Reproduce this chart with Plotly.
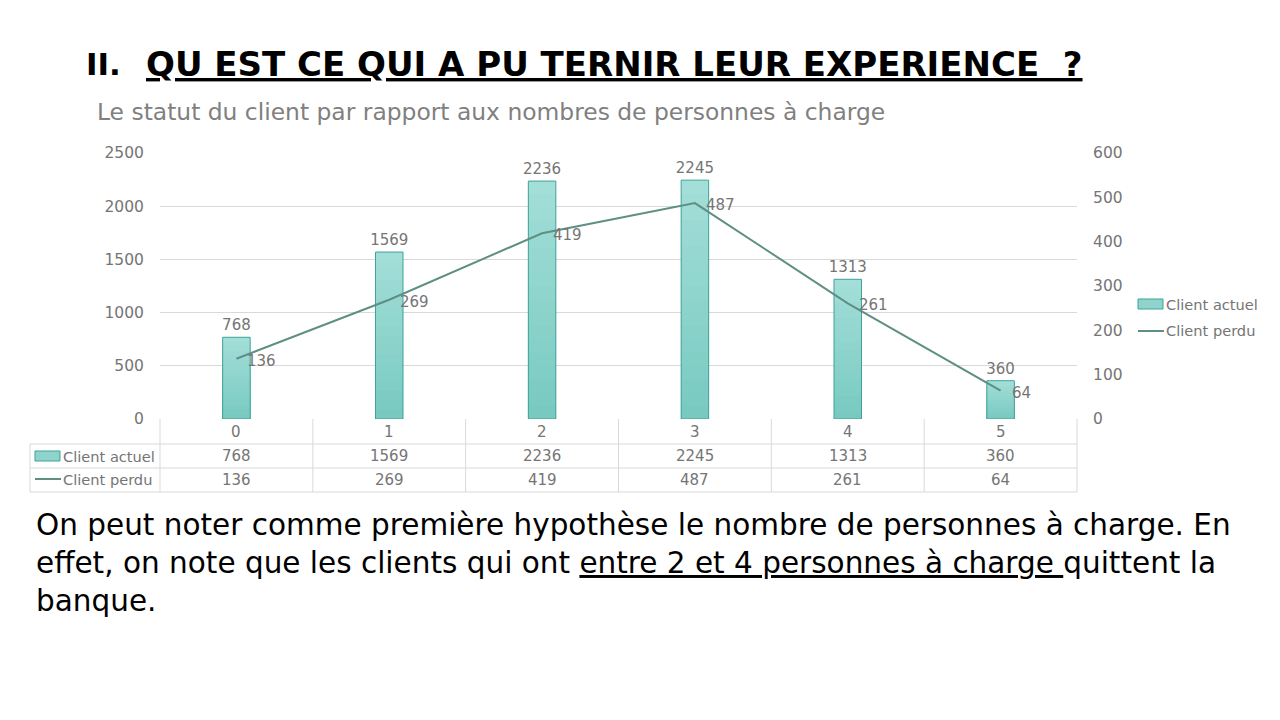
import plotly.graph_objects as go

categories = ["0", "1", "2", "3", "4", "5"]
client_actuel = [768, 1569, 2236, 2245, 1313, 360]
client_perdu = [136, 269, 419, 487, 261, 64]
series_names = ["Client actuel", "Client perdu"]
left_ticks = [0, 500, 1000, 1500, 2000, 2500]
right_ticks = [0, 100, 200, 300, 400, 500, 600]

title_num = "II."
title_text = "QU EST CE QUI A PU TERNIR LEUR EXPERIENCE&nbsp;&nbsp;?"
subtitle = "Le statut du client par rapport aux nombres de personnes à charge"
para_lines = [
    "On peut noter comme première hypothèse le nombre de personnes à charge. En",
    "effet, on note que les clients qui ont <u>entre 2 et 4 personnes à charge </u>quittent la",
    "banque.",
]

W, H = 1280, 720
X0, X1 = 160, 1077
Y0, Y1 = 153, 419
FONT = "DejaVu Sans"
GREY = "#757575"
GRID = "#d9d9d9"
LINE_C = "#5e8f83"
BAR_EDGE = "#3fa399"
TOP_C = (0xa3, 0xde, 0xd8)
BOT_C = (0x78, 0xca, 0xc1)
FS = 15


def px(x):
    return x / W


def py(y):
    return 1 - y / H


def mix(t):
    c = [round(TOP_C[i] + (BOT_C[i] - TOP_C[i]) * t) for i in range(3)]
    return "rgb(%d,%d,%d)" % tuple(c)


fig = go.Figure()
N = 18
for k in range(N):
    frac = 1 - k / N
    fig.add_trace(go.Bar(
        x=categories, y=[v * frac for v in client_actuel], width=0.18,
        marker=dict(color=mix(k / (N - 1)), line=dict(width=0)),
        showlegend=False, hoverinfo="skip"))
# outline + labels
fig.add_trace(go.Bar(
    x=categories, y=client_actuel, width=0.18, name=series_names[0],
    marker=dict(color="rgba(0,0,0,0)", line=dict(color=BAR_EDGE, width=1)),
    text=[str(v) for v in client_actuel], textposition="outside",
    constraintext="none",
    textfont=dict(family=FONT, size=FS, color=GREY), cliponaxis=False,
    showlegend=False))
fig.add_trace(go.Scatter(
    x=categories, y=client_perdu, yaxis="y2", mode="lines",
    name=series_names[1], line=dict(color=LINE_C, width=2),
    showlegend=False))

fig.update_layout(
    width=W, height=H, margin=dict(l=0, r=0, t=0, b=0, autoexpand=False),
    paper_bgcolor="white", plot_bgcolor="white", barmode="overlay",
    showlegend=False, font=dict(family=FONT, color=GREY),
    xaxis=dict(domain=[px(X0), px(X1)], type="category", range=[-0.5, 5.5],
               showticklabels=False, showgrid=False, showline=False,
               zeroline=False, automargin=False),
    yaxis=dict(domain=[py(Y1), py(Y0)], range=[0, 2500], tickvals=left_ticks,
               showgrid=True, gridcolor=GRID, gridwidth=1, zeroline=False,
               ticks="outside", ticklen=12, tickcolor="rgba(0,0,0,0)",
               automargin=False,
               tickfont=dict(family=FONT, size=15.5, color=GREY)),
    yaxis2=dict(overlaying="y", side="right", range=[0, 600],
                tickvals=right_ticks, showgrid=False, zeroline=False,
                ticks="outside", ticklen=12, tickcolor="rgba(0,0,0,0)",
                automargin=False,
                tickfont=dict(family=FONT, size=15.5, color=GREY)),
)

shapes = []
ann = []
# line data labels
for c, v in zip(categories, client_perdu):
    ann.append(dict(x=c, xref="x", y=v, yref="y2", text=str(v), showarrow=False,
                    xanchor="left", yanchor="middle", xshift=9, yshift=-2,
                    font=dict(family=FONT, size=FS, color=GREY)))
# table lines
col_w = (X1 - X0) / len(categories)
for yy in [444, 468, 492]:
    shapes.append(dict(type="line", xref="paper", yref="paper",
                       x0=px(30), x1=px(X1), y0=py(yy), y1=py(yy),
                       line=dict(color=GRID, width=1)))
shapes.append(dict(type="line", xref="paper", yref="paper",
                   x0=px(30), x1=px(30), y0=py(444), y1=py(492),
                   line=dict(color=GRID, width=1)))
for i in range(len(categories) + 1):
    xx = X0 + col_w * i
    shapes.append(dict(type="line", xref="paper", yref="paper",
                       x0=px(xx), x1=px(xx), y0=py(419), y1=py(492),
                       line=dict(color=GRID, width=1)))
# table text
for i, c in enumerate(categories):
    ann.append(dict(x=c, xref="x", y=py(432), yref="paper", text=c,
                    showarrow=False, font=dict(family=FONT, size=FS, color=GREY)))
    ann.append(dict(x=c, xref="x", y=py(456), yref="paper", text=str(client_actuel[i]),
                    showarrow=False, font=dict(family=FONT, size=FS, color=GREY)))
    ann.append(dict(x=c, xref="x", y=py(480), yref="paper", text=str(client_perdu[i]),
                    showarrow=False, font=dict(family=FONT, size=FS, color=GREY)))


def legend_keys(x, ybar, yline, fs):
    shapes.append(dict(type="rect", xref="paper", yref="paper",
                       x0=px(x), x1=px(x + 25), y0=py(ybar + 5), y1=py(ybar - 5),
                       fillcolor=mix(0.5), line=dict(color=BAR_EDGE, width=1)))
    shapes.append(dict(type="line", xref="paper", yref="paper",
                       x0=px(x), x1=px(x + 26), y0=py(yline), y1=py(yline),
                       line=dict(color=LINE_C, width=2)))
    ann.append(dict(x=px(x + 26), y=py(ybar), xref="paper", yref="paper",
                    xanchor="left", yanchor="middle", text=series_names[0], showarrow=False,
                    font=dict(family=FONT, size=fs, color=GREY)))
    ann.append(dict(x=px(x + 26), y=py(yline), xref="paper", yref="paper",
                    xanchor="left", yanchor="middle", text=series_names[1], showarrow=False,
                    font=dict(family=FONT, size=fs, color=GREY)))


legend_keys(35, 456, 479, 14.6)
legend_keys(1138, 304, 331, 14.6)

# titles
ann.append(dict(x=px(84), y=py(64), xref="paper", yref="paper", xanchor="left",
                yanchor="middle", text="<b>%s</b>" % title_num, showarrow=False,
                font=dict(family=FONT, size=31, color="black")))
ann.append(dict(x=px(144), y=py(64), xref="paper", yref="paper", xanchor="left",
                yanchor="middle", text="<b><u>%s</u></b>" % title_text, showarrow=False,
                font=dict(family=FONT, size=34, color="black")))
ann.append(dict(x=px(95), y=py(112), xref="paper", yref="paper", xanchor="left",
                yanchor="middle", text=subtitle, showarrow=False,
                font=dict(family=FONT, size=23.4, color="#808080")))
for i, line in enumerate(para_lines):
    ann.append(dict(x=px(34), y=py(525 + 38 * i), xref="paper", yref="paper",
                    xanchor="left", yanchor="middle", text=line, showarrow=False,
                    font=dict(family=FONT, size=29.5, color="black")))

fig.update_layout(shapes=shapes, annotations=ann)
fig.write_html("out.html")
